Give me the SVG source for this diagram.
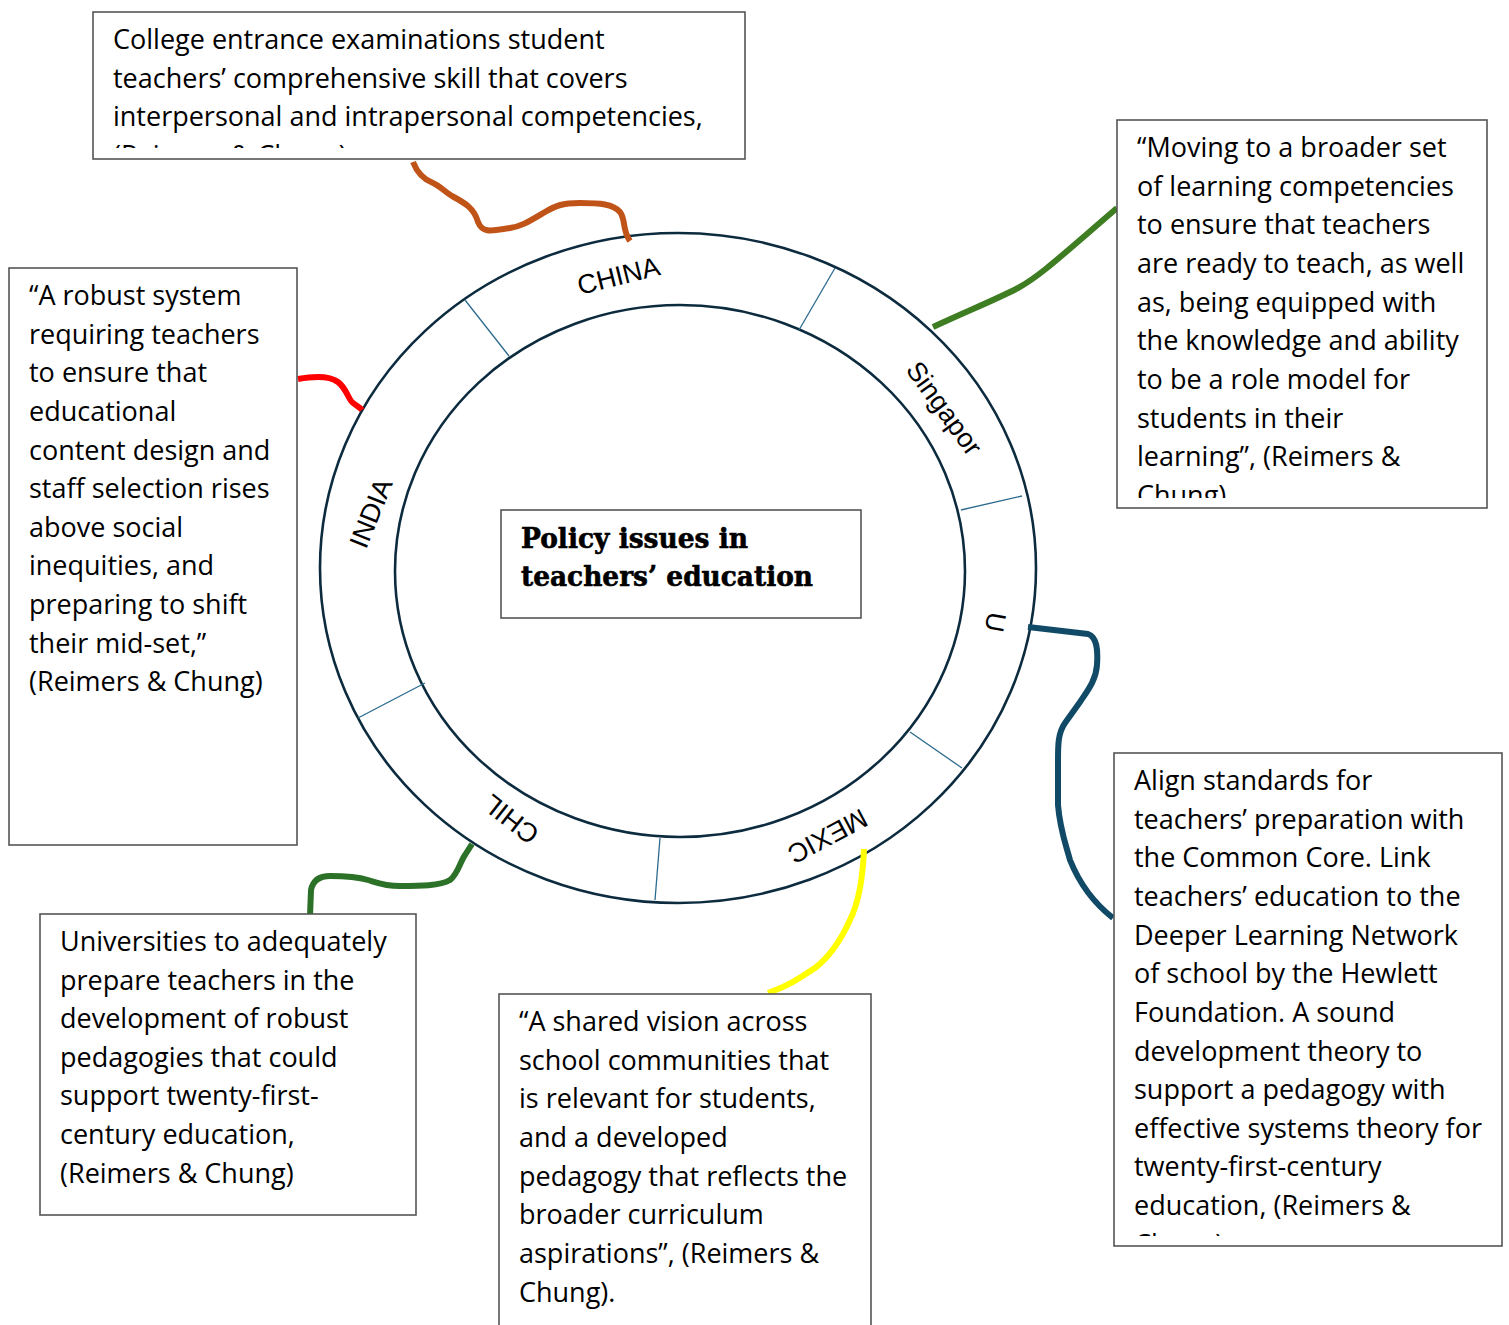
<svg xmlns="http://www.w3.org/2000/svg" width="1509" height="1325" viewBox="0 0 1509 1325">
  <style>
    .box { fill: #ffffff; stroke: #555555; stroke-width: 1.6; }
    .txt { font-family: "Open Sans", "Liberation Sans", Arial, sans-serif; font-size: 27px; fill: #000000; }
    .ring { fill: none; stroke: #0d2b3e; stroke-width: 2.6; }
    .div { stroke: #2c6a8e; stroke-width: 1.3; }
    .seg { font-family: "Liberation Sans", Arial, sans-serif; font-size: 27px; fill: #000000; }
    .title { font-family: "DejaVu Serif", "Liberation Serif", serif; font-weight: 900; font-size: 27px; fill: #000000; stroke: #000000; stroke-width: 0.6; }
    .wire { fill: none; stroke-width: 6; stroke-linecap: butt; stroke-linejoin: round; }
  </style>
  <defs>
    <clipPath id="clip-top"><rect x="93" y="12" width="652" height="136"/></clipPath>
    <clipPath id="clip-rt"><rect x="1117" y="120" width="370" height="378"/></clipPath>
    <clipPath id="clip-rb"><rect x="1114" y="753" width="388" height="483"/></clipPath>
  </defs>

  <rect width="1509" height="1325" fill="#ffffff"/>

  <!-- ring with segment labels -->
  <g id="ring">
    <ellipse class="ring" cx="678" cy="568" rx="358" ry="335"/>
    <ellipse class="ring" cx="680" cy="571" rx="285" ry="266"/>
    <line class="div" x1="465" y1="300" x2="509" y2="356"/>
    <line class="div" x1="835" y1="268" x2="799" y2="330"/>
    <line class="div" x1="1022" y1="496" x2="961" y2="510"/>
    <line class="div" x1="962" y1="768" x2="910" y2="732"/>
    <line class="div" x1="660" y1="838" x2="655" y2="900"/>
    <line class="div" x1="425" y1="683" x2="358" y2="718"/>
    <text class="seg" transform="translate(580,295) rotate(-14)">CHINA</text>
    <text class="seg" transform="translate(905,370) rotate(54)">Singapor</text>
    <text class="seg" transform="translate(988,611) rotate(100)">U</text>
    <text class="seg" transform="translate(861,808) rotate(152)">MEXIC</text>
    <text class="seg" transform="translate(541,831) rotate(218)">CHIL</text>
    <text class="seg" transform="translate(366,550) rotate(-68)">INDIA</text>
  </g>

  <!-- central node -->
  <g id="center">
    <rect class="box" x="501" y="510" width="360" height="108"/>
    <text class="title" x="521" y="548" textLength="227" lengthAdjust="spacingAndGlyphs">Policy issues in</text>
    <text class="title" x="521" y="586" textLength="292" lengthAdjust="spacingAndGlyphs">teachers’ education</text>
  </g>

  <!-- connectors -->
  <g id="connectors">
    <path class="wire" stroke="#c05418" d="M413,162 C418,175 425,180 433,183 C440,186 445,192 452,196 C465,203 474,208 478,222 C482,232 488,232 510,228 C522,226 528,222 545,212 C555,206 562,203 580,203 C600,203 613,204 620,212 C626,220 622,230 630,241"/>
    <path class="wire" stroke="#3e7d22" d="M933,327 C965,312 995,300 1018,288 C1040,276 1060,257 1117,208"/>
    <path class="wire" stroke="#ff0000" d="M298,379 C315,376 330,376 338,382 C346,388 348,398 352,402 C356,406 360,407 362,410"/>
    <path class="wire" stroke="#104a66" d="M1028,627 L1088,634 C1097,637 1098,650 1097,665 C1096,680 1088,690 1080,702 L1065,723 C1058,733 1058,745 1058,760 L1058,805 C1060,830 1066,845 1070,860 C1078,880 1090,900 1113,918"/>
    <path class="wire" stroke="#2b7127" d="M310,916 L311,890 C313,880 320,876 330,876 C345,876 358,877 368,880 C378,883 385,886 400,886 C420,886 440,886 450,880 C458,874 460,862 465,855 L472,844"/>
    <path class="wire" stroke="#ffff00" d="M864,849 C863,875 860,900 850,920 C840,942 828,958 815,968 C800,978 790,985 768,993"/>
  </g>

  <!-- quotation boxes -->
  <g id="box-china">
    <rect class="box" x="93" y="12" width="652" height="147"/>
    <g clip-path="url(#clip-top)">
      <text class="txt" x="113" y="49">College entrance examinations student</text>
      <text class="txt" x="113" y="88">teachers’ comprehensive skill that covers</text>
      <text class="txt" x="113" y="126">interpersonal and intrapersonal competencies,</text>
      <text class="txt" x="113" y="165">(Reimers &amp; Chung)</text>
    </g>
  </g>

  <g id="box-singapore">
    <rect class="box" x="1117" y="120" width="370" height="388"/>
    <g clip-path="url(#clip-rt)">
      <text class="txt" x="1137" y="157">“Moving to a broader set</text>
      <text class="txt" x="1137" y="196">of learning competencies</text>
      <text class="txt" x="1137" y="234">to ensure that teachers</text>
      <text class="txt" x="1137" y="273">are ready to teach, as well</text>
      <text class="txt" x="1137" y="312">as, being equipped with</text>
      <text class="txt" x="1137" y="350">the knowledge and ability</text>
      <text class="txt" x="1137" y="389">to be a role model for</text>
      <text class="txt" x="1137" y="428">students in their</text>
      <text class="txt" x="1137" y="466">learning”, (Reimers &amp;</text>
      <text class="txt" x="1137" y="505">Chung)</text>
    </g>
  </g>

  <g id="box-india">
    <rect class="box" x="9" y="268" width="288" height="577"/>
    <text class="txt" x="29" y="305">“A robust system</text>
    <text class="txt" x="29" y="344">requiring teachers</text>
    <text class="txt" x="29" y="382">to ensure that</text>
    <text class="txt" x="29" y="421">educational</text>
    <text class="txt" x="29" y="460">content design and</text>
    <text class="txt" x="29" y="498">staff selection rises</text>
    <text class="txt" x="29" y="537">above social</text>
    <text class="txt" x="29" y="575">inequities, and</text>
    <text class="txt" x="29" y="614">preparing to shift</text>
    <text class="txt" x="29" y="653">their mid-set,”</text>
    <text class="txt" x="29" y="691">(Reimers &amp; Chung)</text>
  </g>

  <g id="box-chile">
    <rect class="box" x="40" y="914" width="376" height="301"/>
    <text class="txt" x="60" y="951">Universities to adequately</text>
    <text class="txt" x="60" y="990">prepare teachers in the</text>
    <text class="txt" x="60" y="1028">development of robust</text>
    <text class="txt" x="60" y="1067">pedagogies that could</text>
    <text class="txt" x="60" y="1105">support twenty-first-</text>
    <text class="txt" x="60" y="1144">century education,</text>
    <text class="txt" x="60" y="1183">(Reimers &amp; Chung)</text>
  </g>

  <g id="box-mexico">
    <rect class="box" x="499" y="994" width="372" height="345"/>
    <text class="txt" x="519" y="1031">“A shared vision across</text>
    <text class="txt" x="519" y="1070">school communities that</text>
    <text class="txt" x="519" y="1108">is relevant for students,</text>
    <text class="txt" x="519" y="1147">and a developed</text>
    <text class="txt" x="519" y="1186">pedagogy that reflects the</text>
    <text class="txt" x="519" y="1224">broader curriculum</text>
    <text class="txt" x="519" y="1263">aspirations”, (Reimers &amp;</text>
    <text class="txt" x="519" y="1302">Chung).</text>
  </g>

  <g id="box-us">
    <rect class="box" x="1114" y="753" width="388" height="493"/>
    <g clip-path="url(#clip-rb)">
      <text class="txt" x="1134" y="790">Align standards for</text>
      <text class="txt" x="1134" y="829">teachers’ preparation with</text>
      <text class="txt" x="1134" y="867">the Common Core. Link</text>
      <text class="txt" x="1134" y="906">teachers’ education to the</text>
      <text class="txt" x="1134" y="945">Deeper Learning Network</text>
      <text class="txt" x="1134" y="983">of school by the Hewlett</text>
      <text class="txt" x="1134" y="1022">Foundation. A sound</text>
      <text class="txt" x="1134" y="1061">development theory to</text>
      <text class="txt" x="1134" y="1099">support a pedagogy with</text>
      <text class="txt" x="1134" y="1138">effective systems theory for</text>
      <text class="txt" x="1134" y="1176">twenty-first-century</text>
      <text class="txt" x="1134" y="1215">education, (Reimers &amp;</text>
      <text class="txt" x="1134" y="1254">Chung).</text>
    </g>
  </g>
</svg>
